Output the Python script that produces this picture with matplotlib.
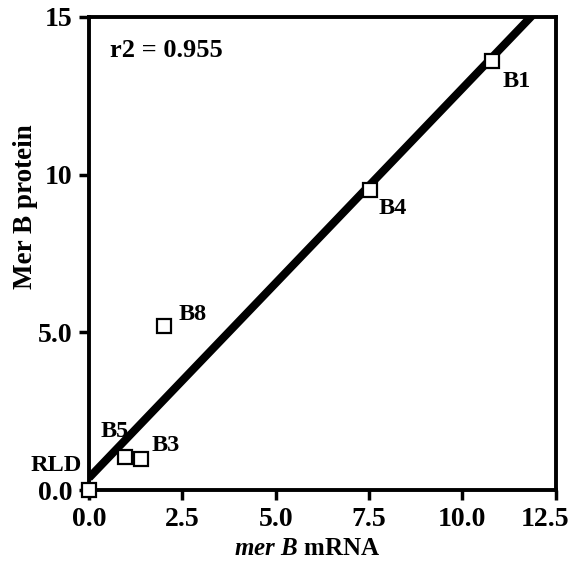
import matplotlib
matplotlib.use('Agg')
import matplotlib.pyplot as plt
from matplotlib.transforms import ScaledTranslation
import numpy as np

# %% Data
samples     = ['RLD', 'B5', 'B3', 'B8', 'B4', 'B1']
mrna        = [0.0, 0.97, 1.4, 2.0, 7.53, 10.8]
protein     = [0.0, 1.05, 0.98, 5.2, 9.52, 13.6]
xticks      = [0.0, 2.5, 5.0, 7.5, 10.0, 12.5]
xticklabels = ['0.0', '2.5', '5.0', '7.5', '10.0', '12.5']
yticks      = [0, 5, 10, 15]
yticklabels = ['0.0', '5.0', '10', '15']

# label offsets in pixels (dx, dy, ha)
offsets = {'RLD': (-7, 25, 'right'), 'B5': (-10, 25, 'center'),
           'B3': (10, 14, 'left'), 'B8': (15, 12, 'left'),
           'B4': (8, -19, 'left'), 'B1': (10, -20, 'left')}

# %% Style
plt.rcParams['font.family'] = 'Liberation Serif'
plt.rcParams['font.weight'] = 'bold'
plt.rcParams['mathtext.fontset'] = 'custom'
plt.rcParams['mathtext.it'] = 'Liberation Serif:italic:bold'
plt.rcParams['mathtext.rm'] = 'Liberation Serif:bold'
tick_fs  = 20
label_fs = 17.5

fig = plt.figure(figsize=(5.7, 5.64), dpi=100)
ax = fig.add_axes([0.156, 0.131, 0.819, 0.839])

# regression line
slope, intercept = np.polyfit(mrna, protein, 1)
xl = np.array([0, 12.5])
ax.plot(xl, slope*xl + intercept, color='black', lw=5.8, solid_capstyle='butt', zorder=2)

ax.plot(mrna, protein, 's', ms=10.5, mfc='white', mec='black', mew=1.6,
        clip_on=False, zorder=3)

for name, x, y in zip(samples, mrna, protein):
    dx, dy, ha = offsets[name]
    ax.annotate(name, (x, y), xytext=(dx, dy), textcoords='offset pixels',
                ha=ha, va='center', fontsize=label_fs, fontweight='bold')

ax.text(0.045, 0.93, 'r2 = 0.955', transform=ax.transAxes, fontsize=19,
        fontweight='bold', va='center')

ax.set_xlim(0, 12.5)
ax.set_ylim(0, 15)
ax.set_xticks(xticks)
ax.set_xticklabels(xticklabels)
ax.set_yticks(yticks)
ax.set_yticklabels(yticklabels)
ax.tick_params(direction='out', length=7, width=2.5, labelsize=tick_fs, pad=5)
for s in ax.spines.values():
    s.set_linewidth(2.8)

# last x label sits a bit left so it fits the figure
last = ax.get_xticklabels()[-1]
last.set_transform(last.get_transform() + ScaledTranslation(-0.11, 0, fig.dpi_scale_trans))

ax.set_xlabel(r'$\mathit{mer\ B}$ mRNA', fontsize=18, fontweight='bold')
ax.set_ylabel('Mer B protein', fontsize=19.5, fontweight='bold')
ax.xaxis.set_label_coords(0.467, -0.099)
ax.yaxis.set_label_coords(-0.109, 0.598)

plt.savefig('out.png', dpi=100)
